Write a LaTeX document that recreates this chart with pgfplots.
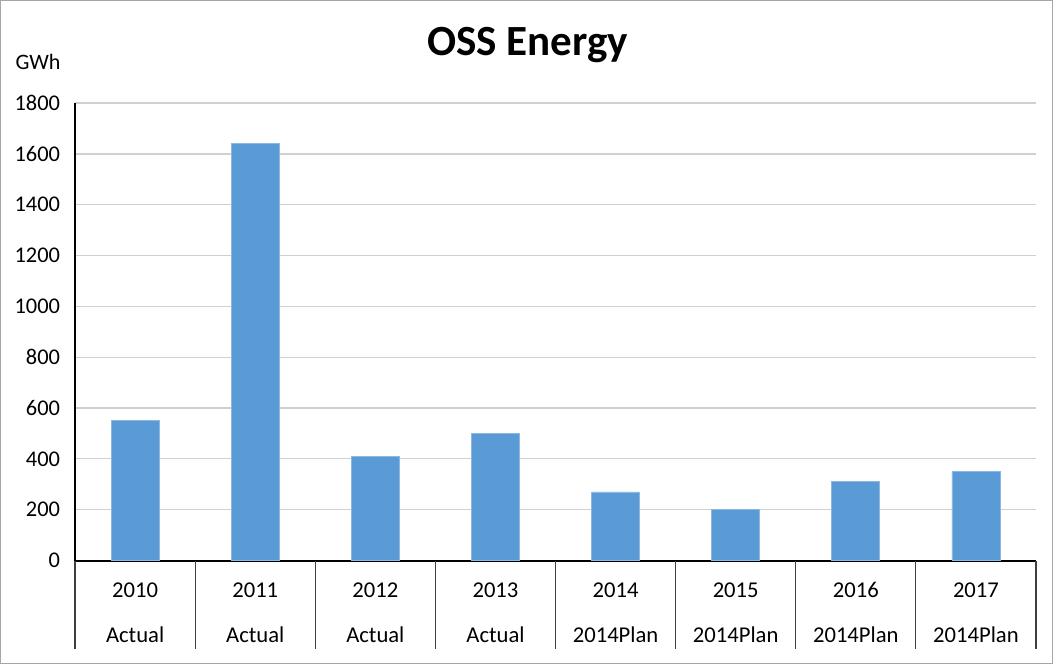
\documentclass[border=0pt]{standalone}
\usepackage{pgfplots}
\pgfplotsset{compat=1.18}
\usepackage{fontspec}
\setmainfont{Carlito}
\definecolor{barblue}{HTML}{5B9BD5}
\definecolor{gridgray}{HTML}{D0D0D0}
\definecolor{framegray}{HTML}{A6A6A6}
\newcommand{\cat}[2]{\strut#1\\\strut#2}

\begin{document}
\begin{tikzpicture}
\begin{axis}[
  scale only axis,
  width=480pt, height=228.5pt,
  xmin=-0.5, xmax=7.5,
  ymin=0, ymax=1800,
  ytick={0,200,...,1800},
  xtick={0,...,7},
  xticklabels={{\cat{2010}{Actual}},{\cat{2011}{Actual}},{\cat{2012}{Actual}},{\cat{2013}{Actual}},
               {\cat{2014}{2014Plan}},{\cat{2015}{2014Plan}},{\cat{2016}{2014Plan}},{\cat{2017}{2014Plan}}},
  xticklabel style={align=center, font=\fontsize{11.3}{22.5}\selectfont, anchor=north, yshift=1pt},
  yticklabel style={font=\fontsize{11.2}{13}\selectfont, xshift=-4pt},
  /pgf/number format/assume math mode=true,
  /pgf/number format/1000 sep={},
  axis x line=bottom, axis y line=left,
  axis line style={black, line width=1pt, -},
  major tick length=0pt,
  ymajorgrids, grid style={gridgray, line width=0.6pt},
  ybar, bar width=24pt,
  clip=false,
]
\addplot[fill=barblue, draw=barblue!70!white, line width=0.4pt] coordinates {
  (0,550) (1,1640) (2,410) (3,500) (4,270) (5,200) (6,310) (7,350)};
% category separators below the axis
\pgfplotsinvokeforeach{0,...,8}{
  \draw[black!75, line width=0.6pt] (axis cs:#1-0.5,0) -- ([yshift=-44pt]axis cs:#1-0.5,0);
}
% unit label
\node[font=\fontsize{11}{13}\selectfont, anchor=base] at ([xshift=-18.5pt, yshift=17pt]rel axis cs:0,1) {GWh};
% title
\node[font=\fontsize{21.5}{24}\selectfont\bfseries] at ([xshift=226pt, yshift=29pt]rel axis cs:0,1) {OSS Energy};
% outer frame
\draw[framegray, line width=0.5pt] ([xshift=-37.25pt, yshift=51.25pt]rel axis cs:0,1) rectangle ([xshift=8.25pt, yshift=-51.25pt]rel axis cs:1,0);
\end{axis}
\end{tikzpicture}
\end{document}
